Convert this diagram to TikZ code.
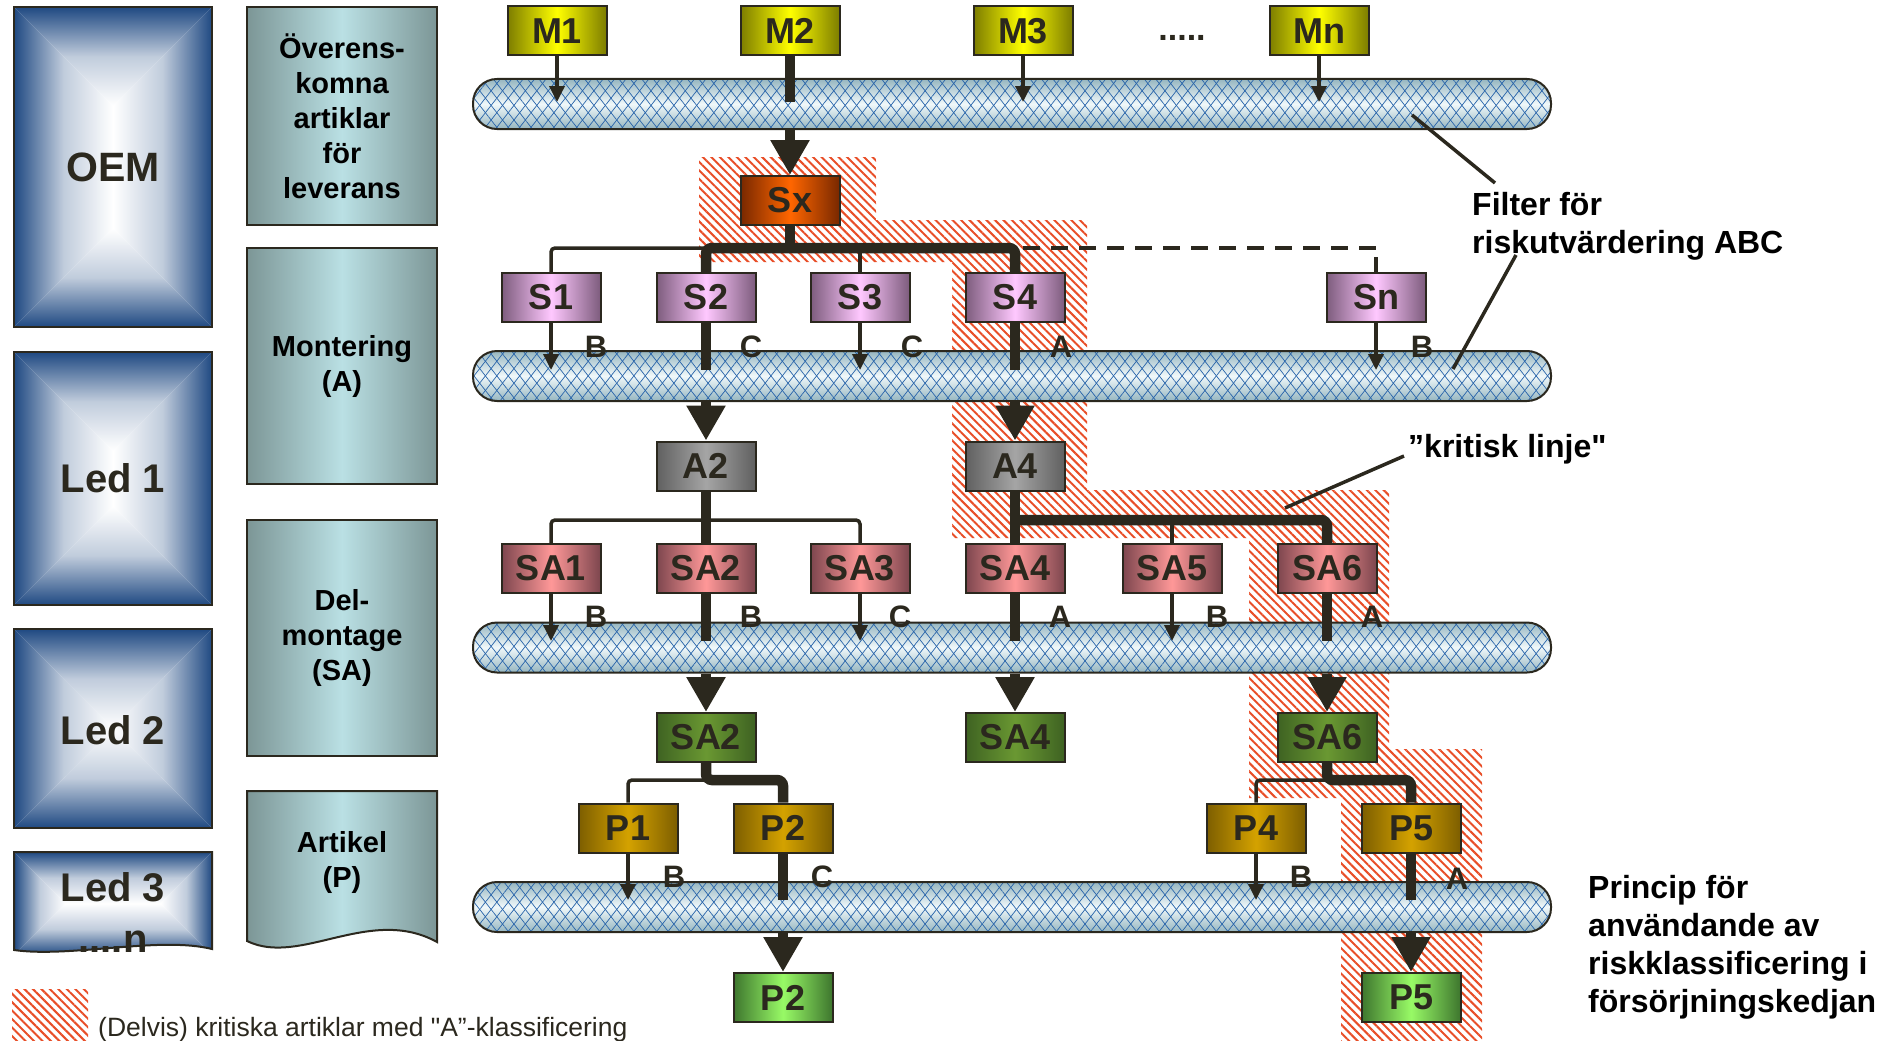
\documentclass[tikz,border=0pt]{standalone}
\usepackage{fontspec}
\setmainfont[Ligatures=TeXOff]{Liberation Sans}
\usetikzlibrary{arrows.meta,patterns.meta}
\definecolor{ink}{RGB}{43,40,30}
\definecolor{bblue}{RGB}{31,73,130}
\definecolor{tealE}{RGB}{124,150,150}
\definecolor{tealM}{RGB}{186,224,228}
\definecolor{tubeE}{RGB}{150,182,192}
\definecolor{tubeM}{RGB}{240,248,250}
\definecolor{tubeL}{RGB}{40,100,170}
\definecolor{hatchR}{RGB}{232,78,40}
\definecolor{yE}{RGB}{125,125,0}
\definecolor{yM}{RGB}{255,255,0}
\definecolor{oE}{RGB}{120,40,0}
\definecolor{oM}{RGB}{255,102,0}
\definecolor{pE}{RGB}{125,92,125}
\definecolor{pM}{RGB}{255,200,255}
\definecolor{gE}{RGB}{96,96,96}
\definecolor{gM}{RGB}{165,165,165}
\definecolor{rE}{RGB}{125,70,78}
\definecolor{rM}{RGB}{255,152,152}
\definecolor{dgE}{RGB}{62,98,34}
\definecolor{dgM}{RGB}{106,152,50}
\definecolor{auE}{RGB}{125,94,0}
\definecolor{auM}{RGB}{212,162,0}
\definecolor{lgE}{RGB}{62,118,46}
\definecolor{lgM}{RGB}{152,250,102}
\newcommand\myfs[2]{\fontsize{#1}{#2}\selectfont}
\begin{document}
\begin{tikzpicture}[x=1pt,y=-1pt,
 box/.style={draw=ink,line width=2pt,minimum width=99pt,minimum height=49pt,inner sep=0pt,text=ink,font=\myfs{36}{36}\bfseries},
 mb/.style={box,left color=yE,right color=yE,middle color=yM},
 ob/.style={box,left color=oE,right color=oE,middle color=oM},
 sb/.style={box,left color=pE,right color=pE,middle color=pM},
 ab/.style={box,left color=gE,right color=gE,middle color=gM},
 rb/.style={box,left color=rE,right color=rE,middle color=rM},
 dgb/.style={box,left color=dgE,right color=dgE,middle color=dgM},
 aub/.style={box,left color=auE,right color=auE,middle color=auM},
 lgb/.style={box,left color=lgE,right color=lgE,middle color=lgM},
 thn/.style={draw=ink,line width=3.5pt},
 thk/.style={draw=ink,line width=10.5pt},
 tarr/.style={thn,-{Triangle[width=15pt,length=16pt]}},
 barr/.style={thk,-{Triangle[width=37pt,length=35pt]}},
 dsh/.style={draw=ink,line width=4pt,dash pattern=on 17pt off 11pt},
 ldr/.style={draw=ink,line width=3.5pt},
 lbl/.style={text=ink,font=\myfs{31}{31}\bfseries,inner sep=0pt},
 hatch/.style={pattern={Lines[angle=-45,distance=6pt,line width=2pt]},pattern color=hatchR},
 tube/.style={line width=2pt,rounded corners=24pt,minimum width=1078pt,minimum height=50pt,inner sep=0pt,
   top color=tubeE,bottom color=tubeE,middle color=tubeM,
   postaction={pattern={Lines[angle=52,distance=9pt,line width=0.7pt]},pattern color=tubeL},
   postaction={pattern={Lines[angle=-52,distance=9pt,line width=0.7pt]},pattern color=tubeL},
   postaction={draw=ink,line width=2pt}},
 tbox/.style={draw=ink,line width=2pt,inner sep=0pt,left color=tealE,right color=tealE,middle color=tealM,align=center,font=\myfs{29}{35}\bfseries,text=black,minimum width=190pt},
 bvT/.style={top color=bblue,bottom color=white,middle color=bblue!28!white},
 bvB/.style={top color=white,bottom color=bblue,middle color=bblue!28!white},
 bvL/.style={left color=bblue,right color=white,middle color=bblue!28!white},
 bvR/.style={left color=white,right color=bblue,middle color=bblue!28!white},
 bigtxt/.style={text=ink,font=\myfs{40}{40}\bfseries,inner sep=0pt},
 rtxt/.style={anchor=base west,text=black,font=\myfs{32}{38}\bfseries,inner sep=0pt}
]
\useasboundingbox (0,0) rectangle (1882,1041);

% ---------- critical hatched region ----------
\fill[hatch] (699,157) -- (876,157) -- (876,220) -- (1087,220) -- (1087,490) -- (1389,490)
  -- (1389,749) -- (1482,749) -- (1482,1041) -- (1341,1041) -- (1341,798) -- (1249,798)
  -- (1249,538) -- (952,538) -- (952,262) -- (699,262) -- cycle;

% ---------- left blue boxes ----------
\shade[bvT] (14,7) -- (212,7) -- (113,106) -- cycle;
\shade[bvB] (14,327) -- (212,327) -- (113,228) -- cycle;
\shade[bvL] (14,7) -- (113,106) -- (113,228) -- (14,327) -- cycle;
\shade[bvR] (212,7) -- (113,106) -- (113,228) -- (212,327) -- cycle;
\draw[ink,line width=2pt] (14,7) rectangle (212,327);
\node[bigtxt,font=\myfs{41}{41}\bfseries] (oem) at (113,167) {OEM};

\shade[bvT] (14,352) -- (212,352) -- (113,451) -- cycle;
\shade[bvB] (14,605) -- (212,605) -- (113,506) -- cycle;
\shade[bvL] (14,352) -- (113,451) -- (113,506) -- (14,605) -- cycle;
\shade[bvR] (212,352) -- (113,451) -- (113,506) -- (212,605) -- cycle;
\draw[ink,line width=2pt] (14,352) rectangle (212,605);
\node[bigtxt] (led1) at (113,478) {Led 1};

\shade[bvT] (14,629) -- (212,629) -- (113,728.5) -- cycle;
\shade[bvB] (14,828) -- (212,828) -- (113,728.5) -- cycle;
\shade[bvL] (14,629) -- (113,728.5) -- (14,828) -- cycle;
\shade[bvR] (212,629) -- (113,728.5) -- (212,828) -- cycle;
\draw[ink,line width=2pt] (14,629) rectangle (212,828);
\node[bigtxt] (led2) at (113,730) {Led 2};

\begin{scope}
\clip (14,852) -- (212,852) -- (212,949) .. controls (160,936) and (70,958) .. (14,950) -- cycle;
\shade[bvT] (14,852) -- (212,852) -- (160.5,903.5) -- (65.5,903.5) -- cycle;
\shade[bvB] (14,955) -- (212,955) -- (160.5,903.5) -- (65.5,903.5) -- cycle;
\shade[bvL] (14,852) -- (65.5,903.5) -- (14,955) -- cycle;
\shade[bvR] (212,852) -- (160.5,903.5) -- (212,955) -- cycle;
\end{scope}
\draw[ink,line width=2pt] (14,852) -- (212,852) -- (212,949) .. controls (160,936) and (70,958) .. (14,950) -- cycle;
\node[bigtxt] (led3) at (113,887) {Led 3};
\begin{scope}
\clip (14,852) rectangle (212,953);
\node[bigtxt,anchor=base] (led3n) at (113,952) {....n};
\end{scope}

% ---------- teal boxes ----------
\node[tbox,minimum height=218pt] (ov) at (342,116) {Överens-\\komna\\artiklar\\för\\leverans};
\node[tbox,minimum height=236pt] (mon) at (342,366) {Montering\\(A)};
\node[tbox,minimum height=236pt] (del) at (342,638) {Del-\\montage\\(SA)};
\shade[left color=tealE,right color=tealE,middle color=tealM] (247,791) -- (437,791) -- (437,942) .. controls (370,905) and (300,967) .. (247,941) -- cycle;
\draw[ink,line width=2pt] (247,791) -- (437,791) -- (437,942) .. controls (370,905) and (300,967) .. (247,941) -- cycle;
\node[align=center,font=\myfs{29}{35}\bfseries,text=black,inner sep=0pt] (art) at (342,862) {Artikel\\(P)};

% ---------- filter tubes ----------
\node[tube] (F1) at (1012,104) {};
\node[tube] (F2) at (1012,376) {};
\node[tube] (F3) at (1012,647.5) {};
\node[tube] (F4) at (1012,907) {};

% ---------- boxes ----------
\node[mb] (M1) at (557,31) {M1};
\node[mb] (M2) at (790,31) {M2};
\node[mb] (M3) at (1023,31) {M3};
\node[mb] (Mn) at (1319,31) {Mn};
\node[text=ink,font=\myfs{34}{34}\bfseries,anchor=base,inner sep=0pt] (dots) at (1182,41) {.....};

\node[ob] (Sx) at (790,200.5) {Sx};

\node[sb] (S1) at (551,297.5) {S1};
\node[sb] (S2) at (706,297.5) {S2};
\node[sb] (S3) at (860,297.5) {S3};
\node[sb] (S4) at (1015,297.5) {S4};
\node[sb] (Sn) at (1376,297.5) {Sn};

\node[ab] (A2) at (706,466) {A2};
\node[ab] (A4) at (1015,466) {A4};

\node[rb] (SA1) at (551,568.5) {SA1};
\node[rb] (SA2) at (706,568.5) {SA2};
\node[rb] (SA3) at (860,568.5) {SA3};
\node[rb] (SA4) at (1015,568.5) {SA4};
\node[rb] (SA5) at (1172,568.5) {SA5};
\node[rb] (SA6) at (1327,568.5) {SA6};

\node[dgb] (G2) at (706,737.5) {SA2};
\node[dgb] (G4) at (1015,737.5) {SA4};
\node[dgb] (G6) at (1327,737.5) {SA6};

\node[aub] (P1) at (628,828) {P1};
\node[aub] (P2) at (783,828) {P2};
\node[aub] (P4) at (1256,828) {P4};
\node[aub] (P5) at (1411,828) {P5};

\node[lgb] (Q2) at (783,997.5) {P2};
\node[lgb] (Q5) at (1411,997.5) {P5};

% ---------- helper coordinates ----------
\coordinate (e1) at (0,102);
\coordinate (e2) at (0,370);
\coordinate (e3) at (0,641);
\coordinate (e4) at (0,900);
\coordinate (b1) at (0,248);
\coordinate (b2) at (0,520);
\coordinate (b3) at (0,780);
\coordinate (snT) at (0,257);

% ---------- level M ----------
\draw[tarr] (M1.south) -- (M1.south |- e1);
\draw[thk] (M2.south) -- (M2.south |- e1);
\draw[tarr] (M3.south) -- (M3.south |- e1);
\draw[tarr] (Mn.south) -- (Mn.south |- e1);
\draw[barr] (Sx.north |- F1.south) -- (Sx.north);

% ---------- level S ----------
\draw[thk] (Sx.south) -- (Sx.south |- b1);
\draw[thn,rounded corners=4pt] (S1.north) |- (S2.north |- b1);
\draw[thk,rounded corners=6pt] (S2.north) |- (S4.north |- b1) -- (S4.north);
\draw[thn] (S3.north) -- (S3.north |- b1);
\draw[dsh] ([xshift=8pt]S4.north |- b1) -- (Sn.north |- b1);
\draw[thn] (Sn.north |- snT) -- (Sn.north);

\draw[tarr] (S1.south) -- (S1.south |- e2);
\draw[thk] (S2.south) -- (S2.south |- e2);
\draw[tarr] (S3.south) -- (S3.south |- e2);
\draw[thk] (S4.south) -- (S4.south |- e2);
\draw[tarr] (Sn.south) -- (Sn.south |- e2);
\node[lbl] (l11) at (596,347) {B};
\node[lbl] (l12) at (751,347) {C};
\node[lbl] (l13) at (912,347) {C};
\node[lbl] (l14) at (1061,347) {A};
\node[lbl] (l15) at (1422,347) {B};
\draw[barr] (A2.north |- F2.south) -- (A2.north);
\draw[barr] (A4.north |- F2.south) -- (A4.north);

% ---------- level SA ----------
\draw[thk] (A2.south) -- (SA2.north);
\draw[thn,rounded corners=4pt] (SA1.north) |- (SA3.north |- b2) -- (SA3.north);
\draw[thk] (A4.south) -- (SA4.north);
\draw[thk,rounded corners=6pt] (A4.south |- b2) -| (SA6.north);
\draw[thn] (SA5.north) -- (SA5.north |- b2);

\draw[tarr] (SA1.south) -- (SA1.south |- e3);
\draw[thk] (SA2.south) -- (SA2.south |- e3);
\draw[tarr] (SA3.south) -- (SA3.south |- e3);
\draw[thk] (SA4.south) -- (SA4.south |- e3);
\draw[tarr] (SA5.south) -- (SA5.south |- e3);
\draw[thk] (SA6.south) -- (SA6.south |- e3);
\node[lbl] (l21) at (596,617) {B};
\node[lbl] (l22) at (751,617) {B};
\node[lbl] (l23) at (900,617) {C};
\node[lbl] (l24) at (1060,617) {A};
\node[lbl] (l25) at (1217,617) {B};
\node[lbl] (l26) at (1372,617) {A};
\draw[barr] (G2.north |- F3.south) -- (G2.north);
\draw[barr] (G4.north |- F3.south) -- (G4.north);
\draw[barr] (G6.north |- F3.south) -- (G6.north);

% ---------- level P ----------
\draw[thn,rounded corners=4pt] (G2.south |- b3) -| (P1.north);
\draw[thk,rounded corners=6pt] (G2.south) |- (P2.north |- b3) -- (P2.north);
\draw[thn,rounded corners=4pt] (G6.south |- b3) -| (P4.north);
\draw[thk,rounded corners=6pt] (G6.south) |- (P5.north |- b3) -- (P5.north);

\draw[tarr] (P1.south) -- (P1.south |- e4);
\draw[thk] (P2.south) -- (P2.south |- e4);
\draw[tarr] (P4.south) -- (P4.south |- e4);
\draw[thk] (P5.south) -- (P5.south |- e4);
\node[lbl] (l31) at (674,877) {B};
\node[lbl] (l32) at (822,877) {C};
\node[lbl] (l33) at (1301,877) {B};
\node[lbl] (l34) at (1457,879) {A};
\draw[barr] (Q2.north |- F4.south) -- (Q2.north);
\draw[barr] (Q5.north |- F4.south) -- (Q5.north);

% ---------- right texts and leaders ----------
\node[rtxt] (filt1) at (1472,215) {Filter för};
\node[rtxt] (filt2) at (1472,253) {riskutvärdering ABC};
\coordinate (lf1a) at (1412,115);
\coordinate (lf1b) at (1495,183);
\coordinate (lf2a) at (1516,255);
\coordinate (lf2b) at (1453,369);
\draw[ldr] (lf1a) -- (lf1b);
\draw[ldr] (lf2a) -- (lf2b);

\node[rtxt] (krit) at (1408,457) {”kritisk linje"};
\coordinate (lk1) at (1404,456);
\coordinate (lk2) at (1285,508);
\draw[ldr] (lk1) -- (lk2);

\node[rtxt] (pr1) at (1588,898) {Princip för};
\node[rtxt] (pr2) at (1588,936) {användande av};
\node[rtxt] (pr3) at (1588,974) {riskklassificering i};
\node[rtxt] (pr4) at (1588,1012) {försörjningskedjan};

% ---------- legend ----------
\node[hatch,minimum width=76pt,minimum height=52pt,inner sep=0pt] (leg) at (50,1015) {};
\node[anchor=base west,text=ink,font=\myfs{26.5}{30},inner sep=0pt] (legt) at (98,1036) {(Delvis) kritiska artiklar med "A”-klassificering};
\end{tikzpicture}
\end{document}
